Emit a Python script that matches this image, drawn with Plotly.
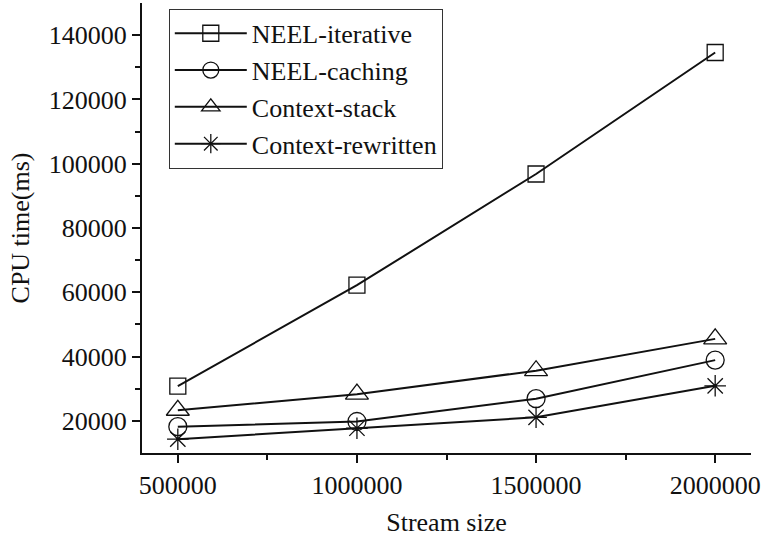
import plotly.graph_objects as go

stream_size = [500000, 1000000, 1500000, 2000000]
neel_iterative = [30800, 62200, 96800, 134600]
neel_caching = [18200, 19800, 26900, 38900]
context_stack = [23300, 28300, 35600, 45500]
context_rewritten = [14300, 17700, 21100, 30900]

series = [
    ("NEEL-iterative", neel_iterative, "square-open", 16),
    ("NEEL-caching", neel_caching, "circle-open", 18),
    ("Context-stack", context_stack, "triangle-up-open", 20),
    ("Context-rewritten", context_rewritten, "asterisk-open", 18),
]

fig = go.Figure()
for name, vals, sym, size in series:
    fig.add_trace(go.Scatter(
        x=stream_size, y=vals, name=name, mode="lines+markers",
        line=dict(color="#111111", width=2),
        marker=dict(symbol=sym, size=size, color="#111111",
                    line=dict(color="#111111", width=1.3)),
    ))

font = "Liberation Serif, Times New Roman, serif"
fig.update_layout(
    width=766, height=543,
    margin=dict(l=142, r=15, t=3, b=90),
    paper_bgcolor="white", plot_bgcolor="white",
    font=dict(family=font, size=26, color="#111111"),
    showlegend=True,
    legend=dict(
        x=0.044, y=0.987, xanchor="left", yanchor="top",
        bordercolor="#333333", borderwidth=1, bgcolor="white",
        font=dict(family=font, size=26, color="#111111"),
        tracegroupgap=0, itemwidth=72,
    ),
    xaxis=dict(
        range=[400000, 2100000], tickvals=stream_size,
        ticktext=[str(v) for v in stream_size],
        showgrid=False, zeroline=False, showline=True,
        linecolor="#111111", linewidth=2,
        ticks="outside", ticklen=8, tickwidth=2, tickcolor="#111111",
        minor=dict(tickvals=[750000, 1250000, 1750000], ticks="outside",
                   ticklen=5, tickwidth=2, tickcolor="#111111"),
        title=dict(text="Stream size", font=dict(family=font, size=26), standoff=14),
        tickfont=dict(family=font, size=26),
    ),
    yaxis=dict(
        range=[10000, 150000],
        tickvals=[20000, 40000, 60000, 80000, 100000, 120000, 140000],
        ticktext=["20000", "40000", "60000", "80000", "100000", "120000", "140000"],
        showgrid=False, zeroline=False, showline=True,
        linecolor="#111111", linewidth=2,
        ticks="outside", ticklen=8, tickwidth=2, tickcolor="#111111",
        minor=dict(tickvals=[30000, 50000, 70000, 90000, 110000, 130000],
                   ticks="outside", ticklen=5, tickwidth=2, tickcolor="#111111"),
        title=dict(text="CPU time(ms)", font=dict(family=font, size=26), standoff=12),
        tickfont=dict(family=font, size=26),
    ),
)

fig.write_html("out.html", config={"displayModeBar": False},
               post_script="document.body.style.margin='0';")
